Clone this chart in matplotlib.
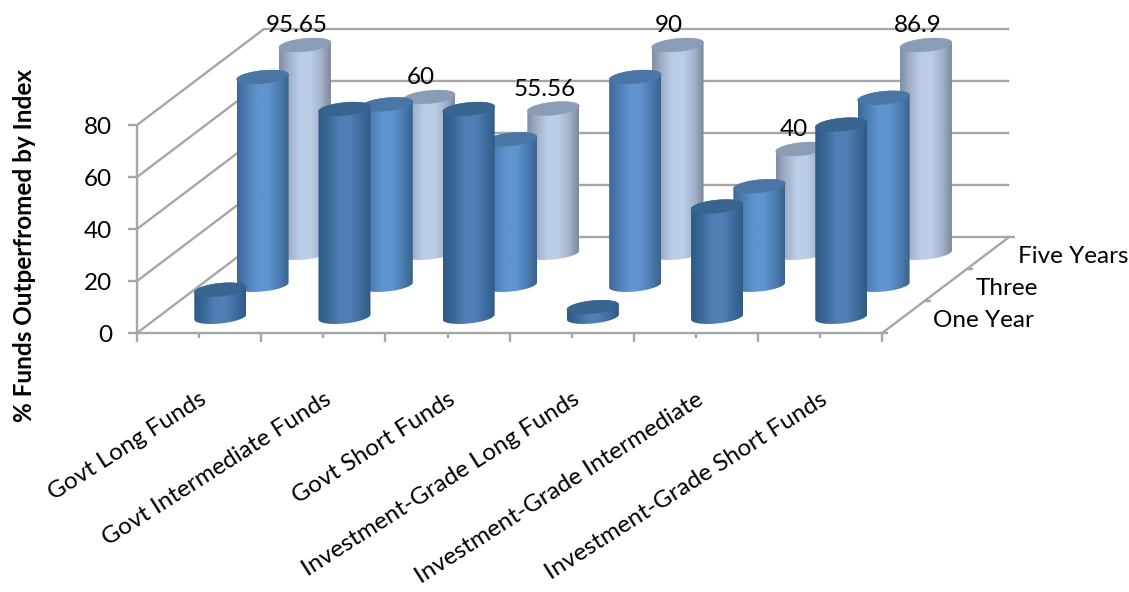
# -*- coding: utf-8 -*-
# 3D-look cylinder chart: % of funds outperformed by their index, by horizon.
import numpy as np
import matplotlib
matplotlib.use("Agg")
import matplotlib.pyplot as plt
from matplotlib.colors import LinearSegmentedColormap
from matplotlib.patches import Polygon

plt.rcParams["font.family"] = ["Lato", "DejaVu Sans"]

categories = ["Govt Long Funds", "Govt Intermediate Funds", "Govt Short Funds",
              "Investment-Grade Long Funds", "Investment-Grade Intermediate",
              "Investment-Grade Short Funds"]
series_names = ["One Year", "Three", "Five Years"]
one_year = [10.5, 80, 80, 3.8, 42.5, 74]
three_year = [80, 69.5, 56, 80, 38, 72]
five_year = [95.65, 60, 55.56, 90, 40, 86.9]
five_labels = ["95.65", "60", "55.56", "90", "40", "86.9"]
yticks = [0, 20, 40, 60, 80]
ymax = 80

# ===================== CONFIG =====================
W, H = 1129, 592
X0, Y0 = 137, 333        # front-left floor corner, pixels
CAT_PX = 124.2           # width of one category
VAL_PX = 2.6             # height of one value unit
DEPTH_X, DEPTH_Y = 127 / CAT_PX, 96 / VAL_PX   # floor depth, in data units
RAD_X = 26 / CAT_PX      # cylinder radius
RAD_Y = 6.5 / VAL_PX     # ellipse half height
TILT = 2.5 / VAL_PX      # ellipse lean caused by the oblique floor
GRID = "#a6a6a6"
FS = 17.5

styles = [
    (["#2f5a87", "#386997", "#4d7fb5", "#4f80b6", "#3f6d9f", "#305a84"], "#376590"),
    (["#3d6898", "#4d7fb6", "#5f94cf", "#5f94cf", "#4d7eb3", "#39628e"], "#4a76a6"),
    (["#7f8da3", "#a3b2ca", "#bccde8", "#bccde8", "#a6b5cd", "#7d8799"], "#8b9db6"),
]
# ==================================================


def proj(cat, depth, val):
    return cat + depth * DEPTH_X, val + depth * DEPTH_Y


def ring(cx, cy, t):
    return np.column_stack([cx + RAD_X * np.cos(t),
                            cy + RAD_Y * np.sin(t) + TILT * np.cos(t)])


def cylinder(ax, cat, depth, val, colors, top_color, z):
    cx, cy = proj(cat, depth, 0)
    top = cy + val
    low = ring(cx, cy, np.linspace(np.pi, 2 * np.pi, 60))
    back = ring(cx, top, np.linspace(0, np.pi, 60))
    outline = Polygon(np.vstack([low, back]), closed=True, transform=ax.transData,
                      fc="none", ec="none")
    ax.add_patch(outline)
    cmap = LinearSegmentedColormap.from_list("side", colors)
    grad = np.linspace(0, 1, 256).reshape(1, -1)
    im = ax.imshow(grad, cmap=cmap, aspect="auto", zorder=z, interpolation="bilinear",
                   extent=[cx - RAD_X, cx + RAD_X, cy - 2 * RAD_Y, top + 2 * RAD_Y])
    im.set_clip_path(outline)
    cap = ring(cx, top, np.linspace(0, 2 * np.pi, 120))
    ax.add_patch(Polygon(cap, closed=True, fc=top_color, ec=top_color, lw=0.3, zorder=z + 0.5))


fig = plt.figure(figsize=(W / 100, H / 100), dpi=100)
ax = fig.add_axes([0, 0, 1, 1])
ax.axis("off")

n = len(categories)
line = dict(color=GRID, lw=1.7, solid_capstyle="butt", zorder=1)

# back wall and left wall
for v in yticks:
    xa, ya = proj(0, 0, v)
    xb, yb = proj(0, 1, v)
    xc, yc = proj(n, 1, v)
    ax.plot([xa, xb, xc], [ya, yb, yc], **line)
    ax.plot([xa - 9 / CAT_PX, xa], [ya, ya], **line)
    ax.annotate(str(v), (xa, ya), xytext=(-18, -1.5), textcoords="offset points",
                ha="right", va="center", fontsize=FS, color="black")
ax.plot([0, 0], [0, ymax], **line)

# floor edges and ticks
ax.plot([0, n, n + DEPTH_X], [0, 0, DEPTH_Y], **line)
for k in range(2 * n + 1):
    tick = 9 if k % 2 == 0 else 5
    ax.plot([k / 2, k / 2], [0, -tick / VAL_PX], **line)
for d in [0, 1 / 3, 2 / 3, 1]:
    xa, ya = proj(n, d, 0)
    ax.plot([xa, xa + 6 / CAT_PX], [ya, ya], **line)

# back to front so nearer cylinders cover farther ones
values = [one_year, three_year, five_year]
depths = [1 / 6, 3 / 6, 5 / 6]
for s in [2, 1, 0]:
    for c in range(n):
        cylinder(ax, c + 0.5, depths[s], min(values[s][c], ymax),
                 styles[s][0], styles[s][1], 5 + (2 - s))

# value labels sit on the far row only
for c in range(n):
    x, y = proj(c + 0.5, depths[2], min(five_year[c], ymax))
    ax.annotate(five_labels[c], (x, y), xytext=(-6, 14), textcoords="offset points",
                ha="center", va="center", fontsize=FS, zorder=20)

# category and depth labels
for c, name in enumerate(categories):
    ax.annotate(name, (c + 0.5, 0), xytext=(0, -40), textcoords="offset points",
                rotation=32.5, rotation_mode="anchor", ha="right", va="top", fontsize=FS)
for s, name in enumerate(series_names):
    ax.annotate(name, proj(n, depths[s], 0), xytext=(21.6, -2.5), textcoords="offset points",
                ha="left", va="center", fontsize=FS)

ax.text(-112 / CAT_PX, (Y0 - 246) / VAL_PX, "% Funds Outperfromed by Index", rotation=90,
        ha="center", va="center", fontsize=17.5, fontweight="bold")

ax.set_xlim(-X0 / CAT_PX, (W - X0) / CAT_PX)
ax.set_ylim((Y0 - H) / VAL_PX, Y0 / VAL_PX)
fig.savefig("out.png", dpi=100)
